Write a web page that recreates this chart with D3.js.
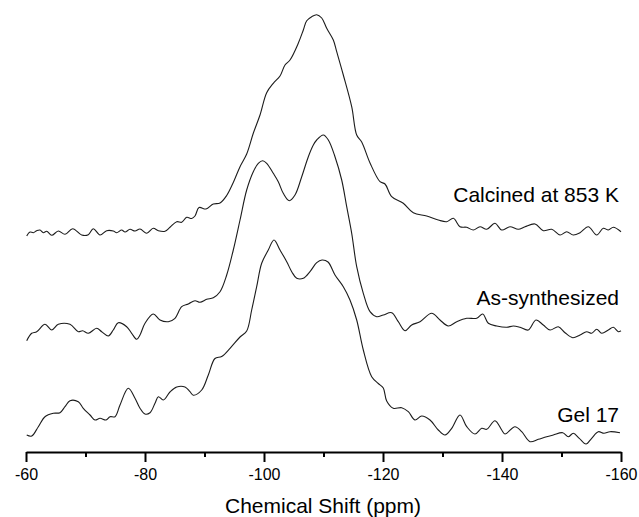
<!DOCTYPE html>
<html>
<head>
<meta charset="utf-8">
<script src="https://cdn.jsdelivr.net/npm/d3@7"></script>
<style>
  html, body { margin: 0; padding: 0; background: #fff; }
  svg { display: block; }
  text { font-family: "Liberation Sans", Arial, Helvetica, sans-serif; fill: #000; }
</style>
</head>
<body>
<svg id="chart" width="639" height="517"></svg>
<script>
// 29Si MAS NMR spectra, chemical shift in ppm, intensity in arbitrary units
const seriesNames = ["Calcined at 853 K", "As-synthesized", "Gel 17"];
// vertical stacking offset of each spectrum (a.u.)
const seriesOffsets = [220, 120, 15];

const calcinedShift = [-60.12,-60.67,-61.23,-61.80,-62.35,-62.91,-63.48,-64.32,-65.43,-66.55,-67.85,-69.36,-70.47,-71.31,-72.44,-73.56,-74.67,-75.24,-76.08,-76.64,-77.48,-78.32,-79.16,-80.29,-81.39,-82.24,-83.36,-84.20,-85.33,-86.17,-87.01,-87.85,-88.40,-89.08,-90.25,-91.48,-92.61,-93.73,-94.84,-95.97,-97.09,-98.20,-99.33,-100.45,-101.56,-102.69,-103.53,-104.37,-105.76,-106.61,-107.18,-108.02,-108.86,-109.70,-110.54,-111.65,-112.22,-113.33,-114.74,-115.58,-116.42,-117.82,-119.50,-120.34,-121.46,-123.41,-125.09,-127.34,-129.29,-130.71,-131.82,-132.94,-134.07,-135.18,-136.30,-137.43,-138.82,-139.95,-141.34,-142.74,-143.87,-145.55,-146.94,-148.35,-149.75,-150.87,-151.98,-153.11,-154.50,-155.92,-157.03,-157.87,-158.71,-160.00];
const calcinedIntensity = [-4,0,-0.7,1.3,2,-0.7,0.7,-3.3,1,-2.3,3.3,-3,-2.7,3.3,-3,1.3,1,-0.7,2,0,2.7,1,3,-1.3,3.7,1.3,0.7,4.7,10.3,9.7,14.7,13.5,16,24.5,23,28,29,36.5,49.5,65.3,78,98.7,117,139.3,148.7,156,167,172,188.7,202,211.3,215.3,217.3,214,203.7,192,180.3,157,125.3,97,90,69,50.3,48,35.3,28.7,19.3,16,12,10.3,13.7,5.3,4.7,2,5.3,2.7,8.7,2,5.3,2.7,5.3,8,1.3,2.7,-3,0.3,-3,-0.7,5.3,-3,3.7,2,4.7,0.3];

const asSynShift = [-60.12,-60.96,-61.80,-63.19,-64.32,-65.43,-67.39,-68.79,-69.53,-70.47,-71.88,-72.72,-73.83,-74.67,-75.51,-76.92,-77.76,-78.61,-79.16,-80.00,-81.39,-82.52,-83.92,-85.04,-86.17,-87.28,-88.40,-89.24,-90.37,-91.48,-92.61,-93.73,-94.84,-95.97,-97.09,-98.20,-99.04,-99.78,-100.45,-101.56,-102.40,-103.24,-104.25,-105.21,-106.34,-107.45,-108.29,-108.86,-109.97,-110.81,-111.93,-113.06,-113.90,-114.74,-115.58,-116.69,-117.82,-118.94,-120.05,-121.46,-122.57,-123.70,-124.82,-126.22,-128.18,-129.58,-130.97,-132.39,-134.07,-135.75,-136.76,-137.70,-139.11,-140.79,-141.90,-143.03,-144.42,-145.71,-146.94,-148.07,-149.46,-150.59,-151.88,-153.11,-154.23,-155.07,-155.92,-156.76,-157.87,-158.71,-159.55,-160.00];
const asSynIntensity = [-8.7,-1.3,0.3,7.7,2,7.7,7.7,0.3,1.3,-1.3,3.7,0.3,-4,2,9.3,5.3,-1.3,-7.3,-3,8.7,18,12,10.3,13.7,25.3,28,31.3,29.7,32.7,34.3,40.3,57,82,112,142,160.3,168.7,171.3,168.7,158.7,150.3,138.7,131.3,137,155.3,175.3,187,192,197,192,175.3,152,125.3,98.7,65.3,38.7,20.3,15.3,17,19.3,10.3,1.3,7,10.3,18.7,12,6,10.3,13.7,13.7,18,8.7,6,4.7,6,4.7,2,12,7,2,5.3,-0.7,-5.7,-3,0.3,-1.3,2.7,-1.3,2,4.7,0.3,1.3];

const gelShift = [-60.12,-60.96,-62.07,-63.19,-64.59,-65.71,-66.55,-67.39,-68.79,-69.63,-70.76,-71.60,-72.44,-73.45,-74.12,-74.96,-75.80,-77.19,-78.32,-79.16,-80.00,-80.84,-81.68,-82.24,-83.08,-84.20,-85.33,-86.72,-87.56,-88.12,-89.53,-90.64,-91.76,-92.89,-94.29,-95.97,-97.09,-97.93,-98.77,-99.61,-100.72,-101.68,-102.69,-103.82,-104.66,-105.50,-106.61,-107.73,-108.86,-109.75,-110.76,-111.93,-113.33,-114.45,-115.58,-116.69,-118.10,-119.21,-120.05,-120.62,-121.73,-123.14,-124.25,-125.38,-126.50,-127.90,-129.29,-130.42,-131.55,-132.94,-134.07,-135.46,-136.59,-137.43,-138.82,-139.95,-140.50,-142.18,-143.31,-144.71,-146.10,-147.51,-148.62,-150.20,-151.14,-151.98,-152.99,-154.12,-155.07,-156.18,-157.14,-158.15,-159.83];
const gelIntensity = [2,1,10.3,20.3,23.7,24.3,30.3,36.3,35.3,28.7,22,17,18.7,17,20.3,20.3,32,48.7,38.7,28.7,23,24.3,33.7,40.3,37,45,50,50,45.3,41.8,47,62,78.5,80.5,88.7,100,106,127,150.3,173.7,187,197,187,175.3,165.3,158.7,158.7,165.3,174.3,177,175,162,150.3,137,117,87,60.3,53.5,49,36,28.7,29.3,25.3,17,21,17,7,2,8.7,22,10.3,3,8.7,7.7,16.3,7,3,10.3,5.3,-4.7,-2.3,0.3,2,4.3,0.3,3.7,-1.3,-7,-1.3,5.3,3.7,5.3,4.3];

// axis ticks (ppm)
const majorTicks = [-60, -80, -100, -120, -140, -160];
const minorTicks = [-70, -90, -110, -130, -150];
const xTitle = "Chemical Shift (ppm)";

const spectra = [
  { name: seriesNames[0], offset: seriesOffsets[0], shift: calcinedShift, value: calcinedIntensity },
  { name: seriesNames[1], offset: seriesOffsets[1], shift: asSynShift, value: asSynIntensity },
  { name: seriesNames[2], offset: seriesOffsets[2], shift: gelShift, value: gelIntensity }
];

const svg = d3.select("#chart");
const axisY = 452;

const x = d3.scaleLinear().domain([-60, -160]).range([26, 621]);
const y = d3.scaleLinear().domain([0, 440]).range([axisY, 12]);

const line = d3.line()
  .x(d => x(d[0]))
  .y(d => y(d[1]))
  .curve(d3.curveCatmullRom.alpha(0.5));

// spectra
spectra.forEach(s => {
  const pts = s.shift.map((v, i) => [v, s.value[i] + s.offset]);
  svg.append("path")
    .datum(pts)
    .attr("d", line)
    .attr("fill", "none")
    .attr("stroke", "#1c1c1c")
    .attr("stroke-width", 1.1)
    .attr("stroke-linejoin", "round");
});

// spectrum labels, right-aligned above each baseline
const labelY = [201.5, 305, 421.5];
spectra.forEach((s, i) => {
  svg.append("text")
    .attr("x", 619)
    .attr("y", labelY[i])
    .attr("text-anchor", "end")
    .attr("font-size", 21)
    .text(s.name);
});

// x axis: minor ticks
const minorAxis = d3.axisBottom(x)
  .tickValues(minorTicks)
  .tickSize(5)
  .tickSizeOuter(0)
  .tickFormat("");
const gMinor = svg.append("g").attr("transform", `translate(0,${axisY})`).call(minorAxis);
gMinor.select(".domain").remove();
gMinor.selectAll(".tick line").attr("stroke", "#000").attr("stroke-width", 2);

// x axis: major ticks and labels
const majorAxis = d3.axisBottom(x)
  .tickValues(majorTicks)
  .tickSize(10)
  .tickSizeOuter(0)
  .tickPadding(7)
  .tickFormat(d => String(d));
const gMajor = svg.append("g").attr("transform", `translate(0,${axisY})`).call(majorAxis);
gMajor.select(".domain").attr("stroke", "#000").attr("stroke-width", 2);
gMajor.selectAll(".tick line").attr("stroke", "#000").attr("stroke-width", 2);
gMajor.selectAll(".tick text")
  .attr("font-size", 16)
  .attr("font-family", "'Liberation Sans', Arial, sans-serif")
  .attr("fill", "#000");

// axis title
svg.append("text")
  .attr("x", 323)
  .attr("y", 513)
  .attr("text-anchor", "middle")
  .attr("font-size", 21)
  .text(xTitle);
</script>
</body>
</html>
